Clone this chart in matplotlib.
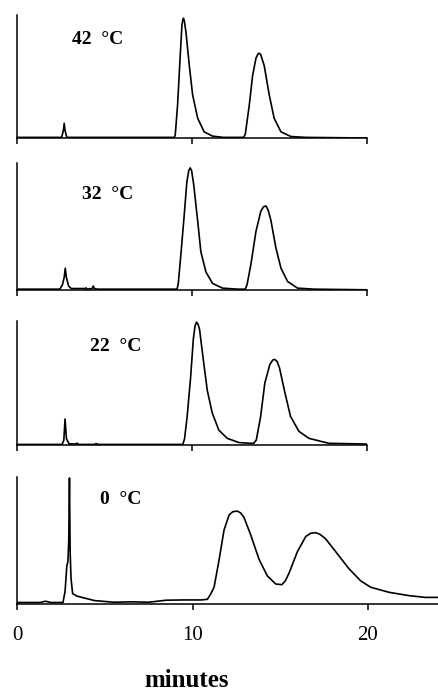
import matplotlib.pyplot as plt

# chromatograms: time (min) vs detector response (fraction of panel height)
t42 = [0, 2.55, 2.65, 2.7, 2.75, 2.85, 9.0, 9.05, 9.18, 9.33, 9.43, 9.48, 9.52, 9.57, 9.66,
       9.85, 10.04, 10.33, 10.7, 11.18, 11.8, 12.95, 13.05, 13.28, 13.47, 13.66, 13.78,
       13.85, 13.93, 14.13, 14.42, 14.7, 15.09, 15.66, 16.5, 20]
h42 = [0.005, 0.005, 0.06, 0.12, 0.06, 0.005, 0.005, 0.03, 0.27, 0.67, 0.92, 0.965, 0.975, 0.95, 0.86,
       0.59, 0.35, 0.16, 0.05, 0.015, 0.005, 0.005, 0.03, 0.27, 0.51, 0.65, 0.685,
       0.69, 0.68, 0.59, 0.35, 0.16, 0.05, 0.012, 0.005, 0.0]

t32 = [0, 2.45, 2.6, 2.7, 2.76, 2.82, 2.95, 3.1, 3.9, 3.95, 4.0, 4.3, 4.36, 4.42, 4.6,
       9.15, 9.22, 9.37, 9.56, 9.71, 9.82, 9.9, 9.98, 10.1, 10.33, 10.51, 10.8, 11.18, 11.75, 12.6,
       13.05, 13.15, 13.37, 13.66, 13.94, 14.1, 14.23, 14.35, 14.51, 14.8, 15.09, 15.47, 16.04, 17, 20]
h32 = [0.005, 0.005, 0.04, 0.1, 0.17, 0.1, 0.03, 0.01, 0.01, 0.015, 0.005, 0.01, 0.03, 0.01, 0.005,
       0.005, 0.05, 0.28, 0.59, 0.85, 0.94, 0.96, 0.94, 0.83, 0.54, 0.30, 0.14, 0.05, 0.013, 0.005,
       0.005, 0.04, 0.2, 0.46, 0.62, 0.655, 0.66, 0.63, 0.55, 0.33, 0.17, 0.065, 0.013, 0.005, 0.0]

t22 = [0, 2.55, 2.65, 2.72, 2.8, 2.95, 3.3, 3.4, 3.5, 4.4, 4.5, 4.6,
       9.45, 9.55, 9.7, 9.9, 10.05, 10.15, 10.24, 10.33, 10.41, 10.62, 10.85, 11.13, 11.51, 11.99,
       12.66, 13.33, 13.5, 13.65, 13.9, 14.14, 14.43, 14.6, 14.71, 14.85, 14.98, 15.29, 15.61,
       16.09, 16.66, 17.42, 17.8, 20]
h22 = [0.005, 0.005, 0.04, 0.21, 0.05, 0.01, 0.008, 0.015, 0.005, 0.005, 0.012, 0.005,
       0.005, 0.05, 0.23, 0.55, 0.85, 0.96, 0.99, 0.97, 0.93, 0.69, 0.44, 0.26, 0.12, 0.054,
       0.02, 0.014, 0.014, 0.04, 0.23, 0.5, 0.65, 0.685, 0.69, 0.67, 0.62, 0.42, 0.23,
       0.11, 0.054, 0.027, 0.014, 0.008]

t0 = [0, 1.3, 1.6, 1.9, 2.6, 2.72, 2.82, 2.88, 2.93, 2.97, 3.01, 3.06, 3.15, 3.4, 4.4, 5.5,
      6.5, 7.5, 8.0, 8.5, 9.5, 10.5, 10.85, 11.05, 11.23, 11.51, 11.8, 12.09, 12.3, 12.56,
      12.75, 12.94, 13.33, 13.8, 14.27, 14.75, 15.1, 15.3, 15.51, 15.99, 16.47, 16.75, 17.04,
      17.3, 17.61, 18.18, 18.94, 19.61, 20.18, 21.23, 22.37, 23.3, 24]
h0 = [0.01, 0.01, 0.02, 0.01, 0.01, 0.1, 0.3, 0.33, 0.5, 0.99, 0.4, 0.2, 0.08, 0.06, 0.025, 0.012,
      0.015, 0.012, 0.02, 0.028, 0.03, 0.03, 0.035, 0.08, 0.13, 0.34, 0.58, 0.70, 0.725, 0.73,
      0.715, 0.68, 0.54, 0.35, 0.22, 0.156, 0.15, 0.18, 0.24, 0.41, 0.53, 0.555, 0.56,
      0.545, 0.51, 0.41, 0.275, 0.18, 0.13, 0.09, 0.064, 0.05, 0.05]

labels = ['42  °C', '32  °C', '22  °C', '0  °C']
times = [t42, t32, t22, t0]
signals = [h42, h32, h22, h0]

# panel boxes (left, bottom, width, height) in figure fractions
boxes = [[0.0387, 0.800, 0.797, 0.178],
         [0.0387, 0.580, 0.797, 0.184],
         [0.0398, 0.355, 0.797, 0.180],
         [0.0398, 0.125, 0.957, 0.184]]
label_pos = [(0.157, 0.80), (0.186, 0.75), (0.207, 0.79), (0.196, 0.82)]

fig = plt.figure(figsize=(4.39, 6.9), dpi=100)
serif = ['Liberation Serif', 'DejaVu Serif']

for i in range(4):
    ax = fig.add_axes(boxes[i])
    ax.plot(times[i], signals[i], color='black', lw=1.2)
    ax.set_ylim(0, 1.0)
    ax.set_xlim(0, 24 if i == 3 else 20)
    for s in ['top', 'right']:
        ax.spines[s].set_visible(False)
    for s in ['left', 'bottom']:
        ax.spines[s].set_linewidth(1.1)
    ax.set_yticks([])
    ax.set_xticks([0, 10, 20])
    ax.tick_params(axis='x', direction='out', length=4, width=1.1)
    if i == 3:
        ax.set_xticklabels(['0', '10', '20'], family=serif, fontsize=15)
        ax.tick_params(axis='x', pad=12)
    else:
        ax.set_xticklabels([])
    ax.text(label_pos[i][0], label_pos[i][1], labels[i], transform=ax.transAxes,
            family=serif, fontweight='bold', fontsize=14, va='center')

fig.text(0.426, 0.005, 'minutes', family=serif, fontweight='bold', fontsize=18,
         ha='center', va='baseline')

fig.savefig('out.png', dpi=100)
